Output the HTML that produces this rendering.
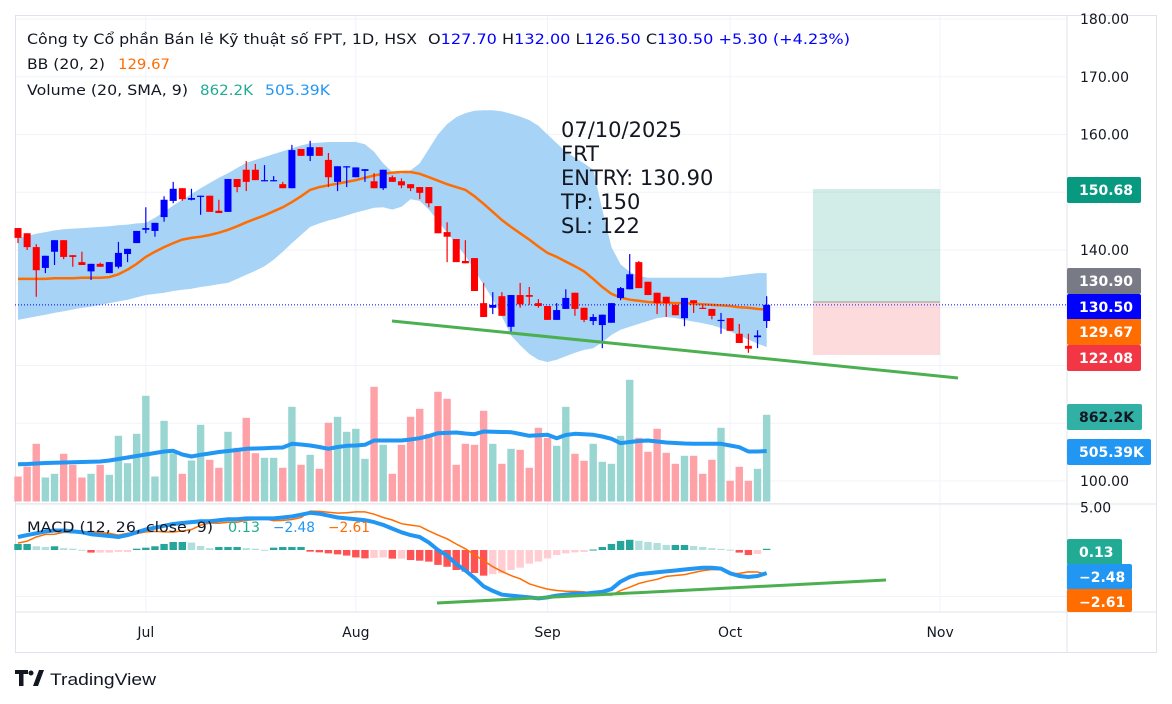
<!DOCTYPE html>
<html><head><meta charset="utf-8"><style>
html,body{margin:0;padding:0;background:#fff;}
svg{display:block;font-family:"DejaVu Sans","Liberation Sans",sans-serif;}
</style></head><body>
<svg id="chart" width="1172" height="704" viewBox="0 0 1172 704" xmlns="http://www.w3.org/2000/svg">
<rect x="0" y="0" width="1172" height="704" fill="#fff"/>
<g id="grid"></g>
<g id="bb"></g>
<g id="vol"></g>
<g id="candles"></g>
<g id="macd"></g>
<g id="overlay">
  <rect x="813" y="189" width="127" height="113" fill="#089981" fill-opacity="0.18"/>
  <rect x="813" y="302" width="127" height="53" fill="#f23645" fill-opacity="0.18"/>
  <line x1="813" y1="302" x2="940" y2="302" stroke="#9598a1" stroke-width="1"/>
  <line x1="392" y1="321" x2="958" y2="378" stroke="#4caf50" stroke-width="3"/>
  <line x1="437" y1="603" x2="886" y2="580" stroke="#4caf50" stroke-width="3"/>
  <g font-size="21" fill="#131722">
    <text x="561" y="137">07/10/2025</text>
    <text x="561" y="161">FRT</text>
    <text x="561" y="185">ENTRY: 130.90</text>
    <text x="561" y="209">TP: 150</text>
    <text x="561" y="233">SL: 122</text>
  </g>
</g>
<g id="axis"></g>
<g id="legend" font-size="14">
  <text x="27" y="44" fill="#131722" textLength="390" lengthAdjust="spacingAndGlyphs">Công ty Cổ phần Bán lẻ Kỹ thuật số FPT, 1D, HSX</text>
  <text x="428" y="44" fill="#131722" textLength="422" lengthAdjust="spacingAndGlyphs">O<tspan fill="#0000ff">127.70</tspan>  H<tspan fill="#0000ff">132.00</tspan>  L<tspan fill="#0000ff">126.50</tspan>  C<tspan fill="#0000ff">130.50</tspan>  <tspan fill="#0000ff">+5.30 (+4.23%)</tspan></text>
  <text x="27" y="69" fill="#131722" textLength="78" lengthAdjust="spacingAndGlyphs">BB (20, 2)</text>
  <text x="118" y="69" fill="#ff6d00" textLength="52" lengthAdjust="spacingAndGlyphs">129.67</text>
  <text x="27" y="95" fill="#131722" textLength="161" lengthAdjust="spacingAndGlyphs">Volume (20, SMA, 9)</text>
  <text x="200" y="95" fill="#22ab94" textLength="53" lengthAdjust="spacingAndGlyphs">862.2K</text>
  <text x="265" y="95" fill="#2196f3" textLength="65" lengthAdjust="spacingAndGlyphs">505.39K</text>
  <text x="27" y="532" fill="#131722" textLength="186" lengthAdjust="spacingAndGlyphs">MACD (12, 26, close, 9)</text>
  <text x="228" y="532" fill="#22ab94" textLength="32" lengthAdjust="spacingAndGlyphs">0.13</text>
  <text x="273" y="532" fill="#2196f3" textLength="42" lengthAdjust="spacingAndGlyphs">−2.48</text>
  <text x="328" y="532" fill="#ff6d00" textLength="42" lengthAdjust="spacingAndGlyphs">−2.61</text>
</g>
<g>
  <path d="M15 670h13v4h-4.5v12h-4.5v-12h-4z M33 686l6-16h5l-6 16z" fill="#131722"/>
  <circle cx="31" cy="673" r="2.5" fill="#131722"/>
  <text x="50" y="685" font-size="17" font-family="Liberation Sans, sans-serif" fill="#131722" textLength="106" lengthAdjust="spacingAndGlyphs">TradingView</text>
</g>
</svg>
<script>
const opens=[143.8,142.9,140.5,136.9,139.7,141.7,139.1,137.9,136.3,137.6,136.0,137.1,139.3,141.2,143.5,143.3,145.7,148.5,150.7,148.7,149.2,149.4,146.8,146.6,152.3,153.9,153.9,151.9,152.0,151.4,150.7,157.5,156.3,157.8,155.6,151.8,154.3,152.6,153.7,151.9,150.7,152.6,151.9,151.4,150.9,150.9,147.6,143.1,141.9,138.1,138.6,130.8,130.0,132.0,126.7,132.2,132.2,130.8,130.3,127.9,129.8,132.6,130.0,127.7,127.0,127.4,131.7,133.2,137.9,134.5,132.6,131.9,130.5,128.2,131.3,130.0,129.8,127.7,128.2,125.5,123.4,124.9,127.7];
const highs=[143.8,142.9,141.0,139.0,141.7,141.7,139.1,139.7,137.6,137.8,137.9,141.4,140.2,143.3,147.4,144.7,149.3,151.8,150.7,150.6,149.4,149.4,148.7,152.3,152.3,155.4,154.9,154.7,152.8,151.8,158.2,157.5,158.9,157.8,156.8,154.5,154.5,154.3,154.0,153.3,153.9,152.9,152.4,151.4,150.9,150.9,147.6,144.8,141.9,141.7,138.6,134.3,132.7,132.7,132.2,134.3,133.6,131.5,130.3,130.8,133.2,132.6,130.0,128.9,128.8,130.8,133.6,139.3,138.1,134.5,132.6,131.9,130.5,131.7,131.3,130.5,129.8,129.1,128.2,127.2,125.5,126.1,132.0];
const lows=[141.2,140.0,131.9,136.0,137.4,138.4,137.1,137.4,134.8,137.1,136.0,136.8,137.9,141.2,142.9,142.3,144.9,148.1,148.5,148.6,146.1,146.6,146.4,146.6,150.0,150.2,152.1,151.9,151.9,150.7,150.7,156.3,155.4,156.3,150.9,150.2,150.9,152.6,151.8,150.7,150.4,151.8,150.7,150.2,148.8,147.4,142.9,137.9,137.9,137.7,132.9,128.4,128.9,128.6,125.6,130.0,130.5,130.0,127.9,127.9,129.8,128.6,127.5,127.0,123.0,127.4,131.3,133.2,133.4,132.2,128.9,128.4,128.7,126.8,129.1,129.8,128.0,125.5,126.0,123.9,122.2,123.0,126.5];
const closes=[142.1,140.5,136.5,139.0,141.7,138.8,138.8,137.4,137.6,137.1,137.9,139.5,140.2,143.3,143.8,144.7,148.7,150.6,148.8,149.0,149.4,146.6,146.4,152.3,150.9,151.8,152.1,152.1,152.1,150.7,157.3,156.3,157.8,156.3,152.6,154.5,154.5,154.3,154.0,150.7,153.9,151.8,151.2,150.7,149.9,148.1,142.9,142.3,137.9,137.7,132.9,128.4,130.5,128.6,132.2,130.6,131.9,130.3,127.9,129.6,131.7,129.8,127.9,128.4,128.8,130.8,133.4,135.8,133.4,132.2,130.8,130.8,128.7,131.7,130.8,129.8,128.6,127.9,126.0,123.9,122.9,125.2,130.5];
const bbMid=[135.0,135.0,135.0,135.0,135.1,135.1,135.1,135.2,135.2,135.2,135.3,135.8,136.6,137.6,138.8,139.7,140.5,141.2,141.8,142.1,142.3,142.6,143.0,143.5,144.1,144.8,145.4,146.0,146.7,147.4,148.3,149.3,150.4,150.9,151.2,151.5,151.8,152.1,152.5,152.9,153.2,153.4,153.5,153.5,153.2,152.6,152.0,151.4,150.9,150.4,149.3,148.0,146.6,145.2,144.0,142.9,141.8,140.6,139.5,138.8,138.0,137.2,136.3,135.0,133.6,132.4,131.8,131.4,131.2,131.0,130.9,130.9,130.8,130.8,130.7,130.6,130.5,130.4,130.3,130.1,130.0,129.8,129.67];
const bbUpper=[142.1,142.4,142.8,143.1,143.4,143.6,143.7,143.8,143.9,144.0,144.1,144.3,144.4,144.6,144.7,145.6,146.6,147.7,148.7,149.7,150.7,151.6,152.5,153.3,154.2,155.1,155.6,156.1,156.6,157.1,157.6,158.1,158.5,158.6,158.7,158.7,158.7,158.7,158.3,157.0,155.0,153.5,153.2,153.8,155.0,157.5,160.0,161.8,163.0,163.7,164.1,164.2,164.2,164.0,163.6,163.1,162.5,161.5,160.0,158.5,157.0,156.0,155.0,153.9,147.0,140.5,137.5,136.2,135.5,135.2,135.2,135.2,135.2,135.2,135.2,135.2,135.2,135.2,135.4,135.6,135.8,136.0,136.0];
const bbLower=[127.9,128.2,128.5,128.8,129.1,129.4,129.7,130.0,130.2,130.5,130.8,131.1,131.4,131.8,132.2,132.4,132.6,132.9,133.1,133.3,133.6,133.8,134.1,134.3,135.0,135.7,136.4,137.2,138.3,139.7,141.2,142.6,144.0,144.6,145.1,145.5,146.0,146.5,146.9,147.3,147.4,147.0,147.5,148.8,148.5,147.0,145.0,143.0,141.0,139.0,136.5,134.0,131.5,128.5,125.2,123.5,122.0,121.0,120.6,121.0,121.6,122.2,122.7,123.0,124.0,125.3,126.2,126.7,127.2,127.7,128.2,128.4,128.2,127.9,127.6,127.3,127.0,126.5,125.9,125.2,124.5,123.8,123.2];
const volumes=[250,350,577,240,277,477,367,240,277,367,267,657,383,677,1057,250,807,483,277,410,767,417,337,697,537,837,483,437,437,337,947,367,467,327,787,847,697,727,427,1147,567,277,567,847,927,677,1097,1027,367,577,567,907,577,377,527,517,337,737,637,557,947,477,407,577,397,377,657,1217,637,497,727,487,377,457,457,277,417,737,207,347,207,327,867];
const volMA=[373,375,380,385,388,390,392,395,397,400,410,425,440,455,470,485,500,507,470,450,467,480,495,505,515,527,530,533,537,540,577,570,560,545,527,545,557,560,567,610,610,610,610,620,633,655,683,686,690,680,673,700,698,695,693,675,657,662,667,633,665,677,672,667,650,627,583,595,605,610,600,590,585,580,578,577,577,577,560,543,500,500,505];
const macdLine=[1.4,1.6,1.8,2.0,2.1,2.1,2.0,1.9,1.7,1.6,1.5,1.4,1.6,1.9,2.2,2.4,2.6,2.8,2.9,3.0,3.1,3.1,3.2,3.3,3.3,3.4,3.4,3.4,3.4,3.5,3.6,3.8,4.0,3.9,3.7,3.5,3.4,3.3,3.2,3.0,2.7,2.3,1.9,1.6,1.4,0.8,0.0,-0.6,-1.5,-2.2,-3.0,-3.9,-4.4,-4.8,-4.9,-5.0,-5.1,-5.2,-5.1,-4.9,-4.8,-4.7,-4.7,-4.6,-4.5,-4.2,-3.4,-2.9,-2.6,-2.5,-2.4,-2.3,-2.2,-2.1,-2.0,-1.9,-1.9,-2.0,-2.5,-2.8,-2.9,-2.8,-2.48];
const macdHist=[0.65,0.65,0.4,0.32,0.4,0.2,0.14,0.03,-0.28,-0.28,-0.28,-0.2,-0.2,0.14,0.25,0.4,0.65,0.86,0.86,0.8,0.43,0.2,0.32,0.32,0.32,0.2,0.14,0.03,0.25,0.32,0.32,0.32,-0.18,-0.25,-0.36,-0.47,-0.6,-0.8,-0.9,-0.85,-0.8,-0.93,-0.93,-1.08,-1.15,-1.25,-1.6,-1.8,-2.15,-2.33,-2.47,-2.76,-2.6,-2.5,-2.15,-1.9,-1.47,-1.25,-0.9,-0.54,-0.36,-0.25,-0.2,0.05,0.32,0.65,0.97,1.1,1.0,0.86,0.75,0.54,0.54,0.54,0.43,0.32,0.2,0.12,0.04,-0.28,-0.54,-0.43,0.13];
const priceTicks=["180.00","170.00","160.00","150.00","140.00","130.00","120.00","110.00","100.00"];
const tickValues=[180,170,160,150,140,130,120,110,100];
const monthLabels=["Jul","Aug","Sep","Oct","Nov"];
const monthIndex=[14,37,58,78,101];

const NS="http://www.w3.org/2000/svg";
const X0=18, STEP=9.13;
function xAt(i){return X0+i*STEP;}
function yP(p){return 19+(180-p)*5.775;}
function yV(v){return 501.5-v/10;}
function yM(m){return 550-m*9.3;}
function mk(parent,tag,attrs){const e=document.createElementNS(NS,tag);for(const k in attrs)e.setAttribute(k,attrs[k]);parent.appendChild(e);return e;}

// grid
const grid=document.getElementById('grid');
tickValues.forEach((t)=>{const l=mk(grid,'line',{x1:15,x2:1067,y1:yP(t),y2:yP(t),stroke:'#f0f3fa','stroke-width':1});

});
[5,-5].forEach(m=>{const l=mk(grid,'line',{x1:15,x2:1067,y1:yM(m),y2:yM(m),stroke:'#f0f3fa','stroke-width':1});

});
monthIndex.forEach((mi,k)=>{const x=xAt(mi);const l=mk(grid,'line',{x1:x,x2:x,y1:15,y2:612,stroke:'#f0f3fa','stroke-width':1});


const t=mk(grid,'text',{x:x,y:637,'font-size':14,'text-anchor':'middle',fill:'#131722'});t.textContent=monthLabels[k];

});
mk(grid,'rect',{x:15.5,y:15.5,width:1141,height:637,fill:'none',stroke:'#e0e3eb'});
mk(grid,'line',{x1:1067,x2:1067,y1:15,y2:653,stroke:'#e0e3eb'});
mk(grid,'line',{x1:15,x2:1157,y1:504,y2:504,stroke:'#e0e3eb'});
mk(grid,'line',{x1:15,x2:1157,y1:612,y2:612,stroke:'#e0e3eb'});

// bollinger
const bb=document.getElementById('bb');
let d='';
bbUpper.forEach((v,i)=>{d+=(i?'L':'M')+xAt(i).toFixed(1)+' '+yP(v).toFixed(1);});
for(let i=bbLower.length-1;i>=0;i--)d+='L'+xAt(i).toFixed(1)+' '+yP(bbLower[i]).toFixed(1);
const band=mk(bb,'path',{d:d+'Z',fill:'#a6d3f6'});


const mid=mk(bb,'polyline',{points:bbMid.map((v,i)=>xAt(i).toFixed(1)+','+yP(v).toFixed(1)).join(' '),fill:'none',stroke:'#ff6d00','stroke-width':2.5});



// volume
const vol=document.getElementById('vol');
volumes.forEach((v,i)=>{const up=closes[i]>=opens[i];
const r=mk(vol,'rect',{x:xAt(i)-3.7,y:yV(v),width:7.4,height:501.5-yV(v),fill:up?'#99d6d2':'#ffa2a8'});

});
const vma=mk(vol,'polyline',{points:volMA.map((v,i)=>xAt(i).toFixed(1)+','+yV(v).toFixed(1)).join(' '),fill:'none',stroke:'#2196f3','stroke-width':4,'stroke-linejoin':'round'});


const cur=mk(vol,'line',{x1:15,x2:1067,y1:yP(130.5),y2:yP(130.5),stroke:'#0000ff','stroke-width':1,'stroke-dasharray':'1 2'});



// candles
const cg=document.getElementById('candles');
opens.forEach((o,i)=>{const c=closes[i];const col=c>=o?'#0000ff':'#ff0000';const x=xAt(i);
const w=mk(cg,'line',{x1:x,x2:x,y1:yP(highs[i]),y2:yP(lows[i]),stroke:col,'stroke-width':1.2});


const top=yP(Math.max(o,c)),bot=yP(Math.min(o,c));
const b=mk(cg,'rect',{x:x-3.5,y:top,width:7,height:Math.max(1.2,bot-top),fill:col});

});

// macd
const mg=document.getElementById('macd');
const signal=macdLine.map((m,i)=>m-macdHist[i]);
macdHist.forEach((h,i)=>{const prev=i?macdHist[i-1]:h;let col;
if(h>=0)col=h>=prev?'#26a69a':'#b2dfdb';else col=h<prev?'#ff5252':'#ffcdd2';
const y0=yM(0),y1=yM(h);
const r=mk(mg,'rect',{x:xAt(i)-3.7,y:Math.min(y0,y1),width:7.4,height:Math.max(1,Math.abs(y1-y0)),fill:col});

});
const sl=mk(mg,'polyline',{points:signal.map((v,i)=>xAt(i).toFixed(1)+','+yM(v).toFixed(1)).join(' '),fill:'none',stroke:'#ff6d00','stroke-width':1.5});


const ml=mk(mg,'polyline',{points:macdLine.map((v,i)=>xAt(i).toFixed(1)+','+yM(v).toFixed(1)).join(' '),fill:'none',stroke:'#2196f3','stroke-width':4,'stroke-linejoin':'round'});



// axis
const ax=document.getElementById('axis');
priceTicks.forEach((t,k)=>{const tx=mk(ax,'text',{x:1080,y:yP(tickValues[k])+5,'font-size':14,fill:'#131722'});tx.textContent=t;

});
const m5=mk(ax,'text',{x:1080,y:yM(5)+9,'font-size':14,fill:'#131722'});m5.textContent='5.00';


const badges=[["150.68",177,74,'#089981','#fff'],["130.90",268,74,'#787b86','#fff'],["130.50",294,74,'#0000ff','#fff'],["129.67",319,74,'#ff6d00','#fff'],["122.08",345,74,'#f23645','#fff'],["862.2K",404,75,'#31b0a6','#131722'],["505.39K",439,84,'#2196f3','#fff'],["0.13",539,55,'#22ab94','#fff'],["−2.48",564,65,'#2196f3','#fff'],["−2.61",589,65,'#ff6d00','#fff']];
badges.forEach(b=>{const g=mk(ax,'g',{});


mk(g,'rect',{x:1067,y:b[1],width:b[2],height:b[0]==='−2.61'?23:26,rx:2,fill:b[3]});
const t=mk(g,'text',{x:1079,y:b[1]+18,'font-size':14,'font-weight':'bold',fill:b[4]});t.textContent=b[0];});
</script>
</body></html>
